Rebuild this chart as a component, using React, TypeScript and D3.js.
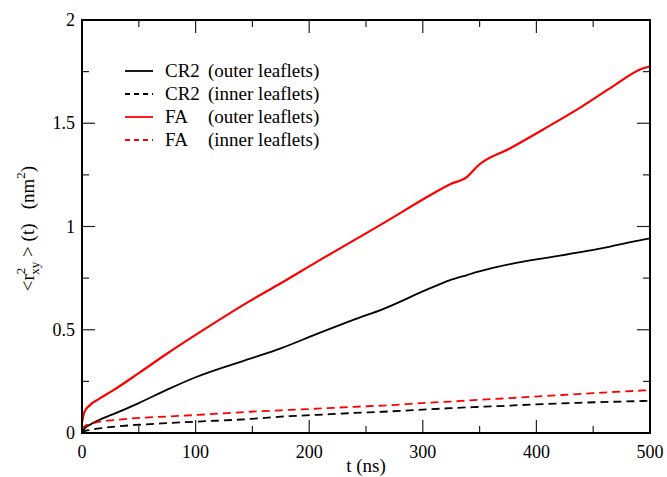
import * as d3 from 'd3';

// time points (ns) shared by all series
const tValues = [0, 2, 7, 15, 27, 50, 75, 100, 148, 175, 207, 240, 265, 306, 324, 339, 348, 377, 406, 436, 465, 494, 500];

// <r_xy^2>(t) in nm^2
const cr2Outer = [0.0, 0.02, 0.04, 0.063, 0.09, 0.145, 0.21, 0.27, 0.36, 0.41, 0.48, 0.55, 0.6, 0.7, 0.74, 0.765, 0.78, 0.818, 0.846, 0.873, 0.903, 0.937, 0.943];
const cr2Inner = [0.0, 0.008, 0.015, 0.022, 0.03, 0.04, 0.048, 0.055, 0.068, 0.079, 0.088, 0.097, 0.103, 0.115, 0.12, 0.124, 0.126, 0.133, 0.14, 0.146, 0.151, 0.155, 0.156];
const faOuter = [0.05, 0.1, 0.135, 0.165, 0.205, 0.29, 0.385, 0.475, 0.64, 0.725, 0.83, 0.935, 1.015, 1.15, 1.205, 1.24, 1.292, 1.379, 1.47, 1.567, 1.67, 1.766, 1.775];
const faInner = [0.02, 0.032, 0.043, 0.055, 0.062, 0.073, 0.08, 0.087, 0.103, 0.11, 0.118, 0.127, 0.133, 0.147, 0.152, 0.157, 0.16, 0.169, 0.179, 0.188, 0.198, 0.206, 0.208];

const xTicks = [0, 100, 200, 300, 400, 500];
const xMinor = [50, 150, 250, 350, 450];
const yTicks = [0, 0.5, 1, 1.5, 2];
const yMinor = [0.25, 0.75, 1.25, 1.75];

const series = [
  { name: 'CR2', note: '(outer leaflets)', values: cr2Outer, color: '#000000', dash: undefined, width: 1.8 },
  { name: 'CR2', note: '(inner leaflets)', values: cr2Inner, color: '#000000', dash: '8,5', width: 1.8 },
  { name: 'FA', note: '(outer leaflets)', values: faOuter, color: '#ff0000', dash: undefined, width: 2.2 },
  { name: 'FA', note: '(inner leaflets)', values: faInner, color: '#ff0000', dash: '8,5', width: 1.8 },
];

const left = 82, right = 650, top = 20, bottom = 433;
const serif = 'Liberation Serif';

export default function App() {
  const x = d3.scaleLinear().domain([0, 500]).range([left, right]);
  const y = d3.scaleLinear().domain([0, 2]).range([bottom, top]);

  const line = d3.line<number>()
    .x((d, i) => x(tValues[i]))
    .y(d => y(d))
    .curve(d3.curveMonotoneX);

  // ticks on all four sides, pointing inward
  const tickLines: [number, number, number, number][] = [];
  xTicks.forEach(v => { tickLines.push([x(v), bottom, x(v), bottom - 13], [x(v), top, x(v), top + 13]); });
  xMinor.forEach(v => { tickLines.push([x(v), bottom, x(v), bottom - 7], [x(v), top, x(v), top + 7]); });
  yTicks.forEach(v => { tickLines.push([left, y(v), left + 13, y(v)], [right, y(v), right - 13, y(v)]); });
  yMinor.forEach(v => { tickLines.push([left, y(v), left + 7, y(v)], [right, y(v), right - 7, y(v)]); });

  return (
    <svg width={667} height={477} fontFamily={serif}
      style={{ position: 'absolute', left: 0, top: 0, background: '#fff' }}>
      {series.map((s, i) => (
        <path key={i} d={line(s.values) || ''} fill="none" stroke={s.color}
          strokeWidth={s.width} strokeDasharray={s.dash} />
      ))}

      {tickLines.map((t, i) => (
        <line key={i} x1={t[0]} y1={t[1]} x2={t[2]} y2={t[3]} stroke="#222" strokeWidth={1.2} />
      ))}

      <rect x={left} y={top} width={right - left} height={bottom - top}
        fill="none" stroke="#000" strokeWidth={2} />

      {xTicks.map(v => (
        <text key={v} x={x(v)} y={bottom + 25} textAnchor="middle" fontSize={18} fontFamily={serif}>
          {d3.format('d')(v)}
        </text>
      ))}
      {yTicks.map(v => (
        <text key={v} x={left - 7} y={y(v) + 6} textAnchor="end" fontSize={18} fontFamily={serif}>
          {String(v)}
        </text>
      ))}

      <text x={(left + right) / 2} y={bottom + 39} textAnchor="middle" fontSize={19} fontFamily={serif}>
        t (ns)
      </text>

      <text transform={`translate(34, ${(top + bottom) / 2 + 2}) rotate(-90)`}
        textAnchor="middle" fontSize={19} fontFamily={serif}>
        <tspan>{'<r'}</tspan>
        <tspan fontSize={13} dy={-9}>2</tspan>
        <tspan fontSize={13} dx={-7} dy={14}>xy</tspan>
        <tspan dy={-5}>{'\u00a0> (t)\u00a0\u00a0\u00a0(nm'}</tspan>
        <tspan fontSize={13} dy={-9}>2</tspan>
        <tspan dy={9}>)</tspan>
      </text>

      {series.map((s, i) => {
        const ly = 71 + i * 23;
        return (
          <g key={i}>
            <line x1={125} x2={153} y1={ly} y2={ly} stroke={s.color} strokeWidth={1.8}
              strokeDasharray={s.dash ? '5,4' : undefined} />
            <text x={165} y={ly + 6} fontSize={19} fontFamily={serif}>{s.name}</text>
            <text x={208} y={ly + 6} fontSize={19} fontFamily={serif}>{s.note}</text>
          </g>
        );
      })}
    </svg>
  );
}
